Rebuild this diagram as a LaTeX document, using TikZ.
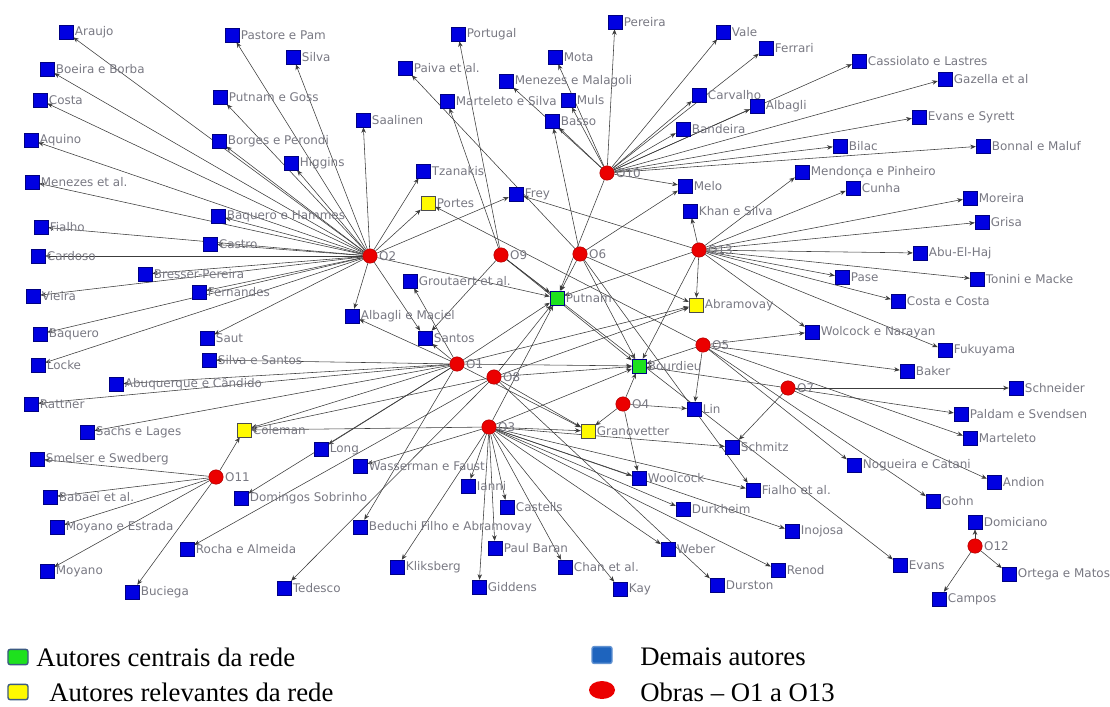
\documentclass[tikz,border=0pt]{standalone}
\usepackage{fontspec}
\setmainfont{Liberation Serif}
\newfontfamily\rotfont{DejaVu Sans}
\usetikzlibrary{arrows,arrows.meta,backgrounds,shapes.geometric}
\definecolor{azul}{RGB}{0,0,225}
\definecolor{azulesc}{RGB}{0,0,130}
\definecolor{verde}{RGB}{30,225,30}
\definecolor{amarelo}{RGB}{255,250,0}
\definecolor{vermelho}{RGB}{235,0,0}
\definecolor{rotulo}{RGB}{120,120,130}
\definecolor{linha}{RGB}{60,60,60}
\definecolor{borda}{RGB}{60,90,130}
\definecolor{azulleg}{RGB}{30,100,190}
\tikzset{>={Stealth[length=4pt,width=3.2pt]}}
\tikzset{
  autor/.style={draw=azulesc, fill=azul, minimum size=3.4mm, inner sep=0, outer sep=0.3pt},
  central/.style={autor, draw=azulesc, fill=verde},
  relevante/.style={autor, draw=black!70, fill=amarelo},
  obra/.style={circle, draw=red!70!black, fill=vermelho, minimum size=3.6mm, inner sep=0},
  every label/.style={font=\rotfont\fontsize{8.5}{9}\selectfont, text=rotulo, inner sep=1pt},
  liga/.style={->, draw=linha, line width=0.4pt},
  legenda/.style={anchor=west, font=\fontsize{19}{21}\selectfont, inner sep=0},
}
\newcommand{\drawautor}{\node[autor]}
\newcommand{\drawobra}{\node[obra]}

\begin{document}
\begin{tikzpicture}[x=0.025cm,y=-0.025cm]
	\useasboundingbox (0,0) rectangle (1110,706);

	% obras
	\drawobra (o1) at (457,364) [label=right:O1] {};
	\drawobra (o2) at (370,256) [label=right:O2] {};
	\drawobra (o3) at (489,427) [label=right:O3] {};
	\drawobra (o4) at (623,404) [label=right:O4] {};
	\drawobra (o5) at (703,345) [label=right:O5] {};
	\drawobra (o6) at (580,254) [label=right:O6] {};
	\drawobra (o7) at (788,388) [label=right:O7] {};
	\drawobra (o8) at (494,377) [label=right:O8] {};
	\drawobra (o9) at (501,255) [label=right:O9] {};
	\drawobra (o10) at (607,173) [label=right:O10] {};
	\drawobra (o11) at (216,477) [label=right:O11] {};
	\drawobra (o12) at (975,546) [label=right:O12] {};
	\drawobra (o13) at (699,250) [label=right:O13] {};

	% autores centrais e relevantes
	\node[central] (putnam) at (557,298) [label=right:Putnam] {};
	\node[central] (bourdieu) at (639,366) [label=right:Bourdieu] {};
	\node[relevante] (portes) at (428,203) [label=right:Portes] {};
	\node[relevante] (abramovay) at (696,305) [label=right:Abramovay] {};
	\node[relevante] (granovetter) at (588,431) [label=right:Granovetter] {};
	\node[relevante] (coleman) at (244,430) [label=right:Coleman] {};

	% demais autores
	\drawautor (araujo) at (66,32) [label=right:Araujo] {};
	\drawautor (boeira) at (47,69) [label=right:Boeira e Borba] {};
	\drawautor (costa) at (40,100) [label=right:Costa] {};
	\drawautor (aquino) at (31,140) [label=right:Aquino] {};
	\drawautor (menezesal) at (32,182) [label=right:Menezes et al.] {};
	\drawautor (fialho) at (41,227) [label=right:Fialho] {};
	\drawautor (cardoso) at (38,256) [label=right:Cardoso] {};
	\drawautor (vieira) at (33,296) [label=right:Vieira] {};
	\drawautor (baquero) at (40,334) [label=right:Baquero] {};
	\drawautor (locke) at (38,365) [label=right:Locke] {};
	\drawautor (rattner) at (31,404) [label=right:Rattner] {};
	\drawautor (pastore) at (232,35) [label=right:Pastore e Pam] {};
	\drawautor (silva) at (293,57) [label=right:Silva] {};
	\drawautor (putnamgoss) at (220,97) [label=right:Putnam e Goss] {};
	\drawautor (borges) at (219,141) [label=right:Borges e Perondi] {};
	\drawautor (higgins) at (291,163) [label=right:Higgins] {};
	\drawautor (saalinen) at (363,120) [label=right:Saalinen] {};
	\drawautor (baqham) at (218,216) [label=right:Baquero e Hammes] {};
	\drawautor (castro) at (210,244) [label=right:Castro] {};
	\drawautor (bresser) at (145,274) [label=right:Bresser-Pereira] {};
	\drawautor (fernandes) at (199,292) [label=right:Fernandes] {};
	\drawautor (saut) at (207,338) [label=right:Saut] {};
	\drawautor (silvasantos) at (209,360) [label=right:Silva e Santos] {};
	\drawautor (abuquerque) at (116,384) [label=right:Abuquerque e Cândido] {};
	\drawautor (tzanakis) at (423,171) [label=right:Tzanakis] {};
	\drawautor (frey) at (516,194) [label=right:Frey] {};
	\drawautor (groot) at (410,281) [label=right:Groutaert et al.] {};
	\drawautor (albmaciel) at (352,316) [label=right:Albagli e Maciel] {};
	\drawautor (santos) at (425,338) [label=right:Santos] {};
	\drawautor (portugal) at (458,34) [label=right:Portugal] {};
	\drawautor (paiva) at (405,68) [label=right:Paiva et al.] {};
	\drawautor (martsilva) at (447,101) [label=right:Marteleto e Silva] {};
	\drawautor (menmal) at (506,81) [label=right:Menezes e Malagoli] {};
	\drawautor (mota) at (555,57) [label=right:Mota] {};
	\drawautor (muls) at (568,100) [label=right:Muls] {};
	\drawautor (basso) at (552,121) [label=right:Basso] {};
	\drawautor (pereira) at (615,22) [label=right:Pereira] {};
	\drawautor (vale) at (723,32) [label=right:Vale] {};
	\drawautor (ferrari) at (766,48) [label=right:Ferrari] {};
	\drawautor (carvalho) at (699,95) [label=right:Carvalho] {};
	\drawautor (albagli) at (757,106) [label=right:Albagli] {};
	\drawautor (bandeira) at (683,129) [label=right:Bandeira] {};
	\drawautor (melo) at (685,186) [label=right:Melo] {};
	\drawautor (khan) at (690,211) [label=right:Khan e Silva] {};
	\drawautor (cassiolato) at (859,61) [label=right:Cassiolato e Lastres] {};
	\drawautor (gazella) at (945,79) [label=right:Gazella et al] {};
	\drawautor (evsyrett) at (919,117) [label=right:Evans e Syrett] {};
	\drawautor (bilac) at (840,146) [label=right:Bilac] {};
	\drawautor (bonnal) at (983,146) [label=right:Bonnal e Maluf] {};
	\drawautor (mendonca) at (802,172) [label=right:Mendonça e Pinheiro] {};
	\drawautor (cunha) at (853,188) [label=right:Cunha] {};
	\drawautor (moreira) at (970,198) [label=right:Moreira] {};
	\drawautor (grisa) at (982,222) [label=right:Grisa] {};
	\drawautor (abuelhaj) at (920,253) [label=right:Abu-El-Haj] {};
	\drawautor (pase) at (842,277) [label=right:Pase] {};
	\drawautor (tonini) at (977,279) [label=right:Tonini e Macke] {};
	\drawautor (costacosta) at (898,301) [label=right:Costa e Costa] {};
	\drawautor (wolcock) at (812,332) [label=right:Wolcock e Narayan] {};
	\drawautor (fukuyama) at (945,350) [label=right:Fukuyama] {};
	\drawautor (baker) at (907,371) [label=right:Baker] {};
	\drawautor (schneider) at (1016,388) [label=right:Schneider] {};
	\drawautor (paldam) at (961,414) [label=right:Paldam e Svendsen] {};
	\drawautor (marteleto) at (970,438) [label=right:Marteleto] {};
	\drawautor (lin) at (694,409) [label=right:Lin] {};
	\drawautor (schmitz) at (732,447) [label=right:Schmitz] {};
	\drawautor (nogueira) at (854,465) [label=right:Nogueira e Catani] {};
	\drawautor (andion) at (994,482) [label=right:Andion] {};
	\drawautor (woolcock) at (639,478) [label=right:Woolcock] {};
	\drawautor (fialhoal) at (753,490) [label=right:Fialho et al.] {};
	\drawautor (durkheim) at (683,509) [label=right:Durkheim] {};
	\drawautor (gohn) at (933,501) [label=right:Gohn] {};
	\drawautor (inojosa) at (792,531) [label=right:Inojosa] {};
	\drawautor (domiciano) at (975,522) [label=right:Domiciano] {};
	\drawautor (evans) at (900,565) [label=right:Evans] {};
	\drawautor (ortega) at (1009,574) [label=right:Ortega e Matos] {};
	\drawautor (campos) at (939,599) [label=right:Campos] {};
	\drawautor (weber) at (668,549) [label=right:Weber] {};
	\drawautor (renod) at (778,570) [label=right:Renod] {};
	\drawautor (durston) at (717,585) [label=right:Durston] {};
	\drawautor (chan) at (565,567) [label=right:Chan et al.] {};
	\drawautor (kay) at (620,589) [label=right:Kay] {};
	\drawautor (baran) at (495,548) [label=right:Paul Baran] {};
	\drawautor (castells) at (507,507) [label=right:Castells] {};
	\drawautor (ianni) at (468,486) [label=right:Ianni] {};
	\drawautor (giddens) at (479,587) [label=right:Giddens] {};
	\drawautor (kliksberg) at (397,567) [label=right:Kliksberg] {};
	\drawautor (beduchi) at (360,527) [label=right:Beduchi Filho e Abramovay] {};
	\drawautor (wasserman) at (360,466) [label=right:Wasserman e Faust] {};
	\drawautor (long) at (321,449) [label=right:Long] {};
	\drawautor (domingos) at (241,498) [label=right:Domingos Sobrinho] {};
	\drawautor (rocha) at (187,549) [label=right:Rocha e Almeida] {};
	\drawautor (tedesco) at (284,588) [label=right:Tedesco] {};
	\drawautor (sachs) at (87,432) [label=right:Sachs e Lages] {};
	\drawautor (smelser) at (37,459) [label=right:Smelser e Swedberg] {};
	\drawautor (babaei) at (50,497) [label=right:Babaei et al.] {};
	\drawautor (moyestrada) at (57,527) [label=right:Moyano e Estrada] {};
	\drawautor (moyano) at (47,571) [label=right:Moyano] {};
	\drawautor (buciega) at (132,592) [label=right:Buciega] {};

	\begin{scope}[on background layer]
	% O2
	\draw[liga] (o2) -- (araujo);
	\draw[liga] (o2) -- (boeira);
	\draw[liga] (o2) -- (costa);
	\draw[liga] (o2) -- (aquino);
	\draw[liga] (o2) -- (menezesal);
	\draw[liga] (o2) -- (pastore);
	\draw[liga] (o2) -- (silva);
	\draw[liga] (o2) -- (putnamgoss);
	\draw[liga] (o2) -- (borges);
	\draw[liga] (o2) -- (higgins);
	\draw[liga] (o2) -- (saalinen);
	\draw[liga] (o2) -- (baqham);
	\draw[liga] (o2) -- (castro);
	\draw[liga] (o2) -- (fialho);
	\draw[liga] (o2) -- (cardoso);
	\draw[liga] (o2) -- (bresser);
	\draw[liga] (o2) -- (vieira);
	\draw[liga] (o2) -- (fernandes);
	\draw[liga] (o2) -- (baquero);
	\draw[liga] (o2) -- (locke);
	\draw[liga] (o2) -- (saut);
	\draw[liga] (o2) -- (tzanakis);
	\draw[liga] (o2) -- (portes);
	\draw[liga] (o2) -- (frey);
	\draw[liga] (o2) -- (albmaciel);
	\draw[liga] (o2) -- (santos);
	\draw[liga] (o2) -- (putnam);
	% O1
	\draw[liga] (o1) -- (santos);
	\draw[liga] (o1) -- (albmaciel);
	\draw[liga] (o1) -- (groot);
	\draw[liga] (o1) -- (silvasantos);
	\draw[liga] (o1) -- (abuquerque);
	\draw[liga] (o1) -- (rattner);
	\draw[liga] (o1) -- (sachs);
	\draw[liga] (o1) -- (coleman);
	\draw[liga] (o1) -- (long);
	\draw[liga] (o1) -- (domingos);
	\draw[liga] (o1) -- (beduchi);
	\draw[liga] (o1) -- (putnam);
	\draw[liga] (o1) -- (bourdieu);
	\draw[liga] (o1) -- (abramovay);
	\draw[liga] (o1) -- (granovetter);
	% O8
	\draw[liga] (o8) -- (rocha);
	\draw[liga] (o8) -- (tedesco);
	\draw[liga] (o8) -- (coleman);
	\draw[liga] (o8) -- (putnam);
	\draw[liga] (o8) -- (bourdieu);
	\draw[liga] (o8) -- (abramovay);
	\draw[liga] (o8) -- (granovetter);
	\draw[liga] (o8) -- (durston);
	% O3
	\draw[liga] (o3) -- (coleman);
	\draw[liga] (o3) -- (wasserman);
	\draw[liga] (o3) -- (kliksberg);
	\draw[liga] (o3) -- (ianni);
	\draw[liga] (o3) -- (castells);
	\draw[liga] (o3) -- (baran);
	\draw[liga] (o3) -- (giddens);
	\draw[liga] (o3) -- (chan);
	\draw[liga] (o3) -- (kay);
	\draw[liga] (o3) -- (weber);
	\draw[liga] (o3) -- (renod);
	\draw[liga] (o3) -- (durkheim);
	\draw[liga] (o3) -- (woolcock);
	\draw[liga] (o3) -- (fialhoal);
	\draw[liga] (o3) -- (inojosa);
	\draw[liga] (o3) -- (schmitz);
	\draw[liga] (o3) -- (granovetter);
	\draw[liga] (o3) -- (putnam);
	\draw[liga] (o3) -- (bourdieu);
	% O4
	\draw[liga] (o4) -- (lin);
	\draw[liga] (o4) -- (woolcock);
	\draw[liga] (o4) -- (bourdieu);
	\draw[liga] (o4) -- (granovetter);
	% O5
	\draw[liga] (o5) -- (lin);
	\draw[liga] (o5) -- (wolcock);
	\draw[liga] (o5) -- (baker);
	\draw[liga] (o5) -- (marteleto);
	\draw[liga] (o5) -- (gohn);
	\draw[liga] (o5) -- (nogueira);
	\draw[liga] (o5) -- (portes);
	\draw[liga] (o5) -- (bourdieu);
	% O6
	\draw[liga] (o6) -- (melo);
	\draw[liga] (o6) -- (basso);
	\draw[liga] (o6) -- (paiva);
	\draw[liga] (o6) -- (putnam);
	\draw[liga] (o6) -- (bourdieu);
	\draw[liga] (o6) -- (fialhoal);
	\draw[liga] (o6) -- (abramovay);
	% O7
	\draw[liga] (o7) -- (schneider);
	\draw[liga] (o7) -- (paldam);
	\draw[liga] (o7) -- (andion);
	\draw[liga] (o7) -- (schmitz);
	\draw[liga] (o7) -- (bourdieu);
	% O9
	\draw[liga] (o9) -- (portugal);
	\draw[liga] (o9) -- (martsilva);
	\draw[liga] (o9) -- (putnam);
	\draw[liga] (o9) -- (santos);
	\draw[liga] (o9) -- (evans);
	\draw[liga] (o9) -- (bourdieu);
	% O10
	\draw[liga] (o10) -- (pereira);
	\draw[liga] (o10) -- (vale);
	\draw[liga] (o10) -- (ferrari);
	\draw[liga] (o10) -- (carvalho);
	\draw[liga] (o10) -- (albagli);
	\draw[liga] (o10) -- (bandeira);
	\draw[liga] (o10) -- (melo);
	\draw[liga] (o10) -- (cassiolato);
	\draw[liga] (o10) -- (gazella);
	\draw[liga] (o10) -- (evsyrett);
	\draw[liga] (o10) -- (bilac);
	\draw[liga] (o10) -- (bonnal);
	\draw[liga] (o10) -- (mota);
	\draw[liga] (o10) -- (menmal);
	\draw[liga] (o10) -- (muls);
	\draw[liga] (o10) -- (basso);
	\draw[liga] (o10) -- (putnam);
	% O11
	\draw[liga] (o11) -- (smelser);
	\draw[liga] (o11) -- (babaei);
	\draw[liga] (o11) -- (moyestrada);
	\draw[liga] (o11) -- (moyano);
	\draw[liga] (o11) -- (buciega);
	\draw[liga] (o11) -- (coleman);
	% O12
	\draw[liga] (o12) -- (domiciano);
	\draw[liga] (o12) -- (ortega);
	\draw[liga] (o12) -- (campos);
	% O13
	\draw[liga] (o13) -- (khan);
	\draw[liga] (o13) -- (frey);
	\draw[liga] (o13) -- (mendonca);
	\draw[liga] (o13) -- (cunha);
	\draw[liga] (o13) -- (moreira);
	\draw[liga] (o13) -- (grisa);
	\draw[liga] (o13) -- (abuelhaj);
	\draw[liga] (o13) -- (pase);
	\draw[liga] (o13) -- (tonini);
	\draw[liga] (o13) -- (costacosta);
	\draw[liga] (o13) -- (wolcock);
	\draw[liga] (o13) -- (fukuyama);
	\draw[liga] (o13) -- (abramovay);
	\draw[liga] (o13) -- (putnam);
	\draw[liga] (o13) -- (bourdieu);
	\end{scope}

	% legenda
	\node[draw=borda, line width=1pt, fill=verde, rounded corners=1.5pt, minimum width=5mm, minimum height=3.8mm] (legcentral) at (18,657) {};
	\node[legenda] (txcentral) at (36,657) {Autores centrais da rede};
	\node[draw=borda, line width=1pt, fill=amarelo, rounded corners=1.5pt, minimum width=5mm, minimum height=3.8mm] (legrelev) at (18,692) {};
	\node[legenda] (txrelev) at (49,692) {Autores relevantes da rede};
	\node[draw=azulleg!70!white, line width=1pt, fill=azulleg, rounded corners=1.5pt, minimum width=5mm, minimum height=4.2mm] (legdemais) at (602,655) {};
	\node[legenda] (txdemais) at (640,657) {Demais autores};
	\node[ellipse, fill=vermelho, minimum width=6.5mm, minimum height=4.5mm, inner sep=0] (legobra) at (602,690) {};
	\node[legenda] (txobra) at (640,692) {Obras -- O1 a O13};

\end{tikzpicture}
\end{document}
